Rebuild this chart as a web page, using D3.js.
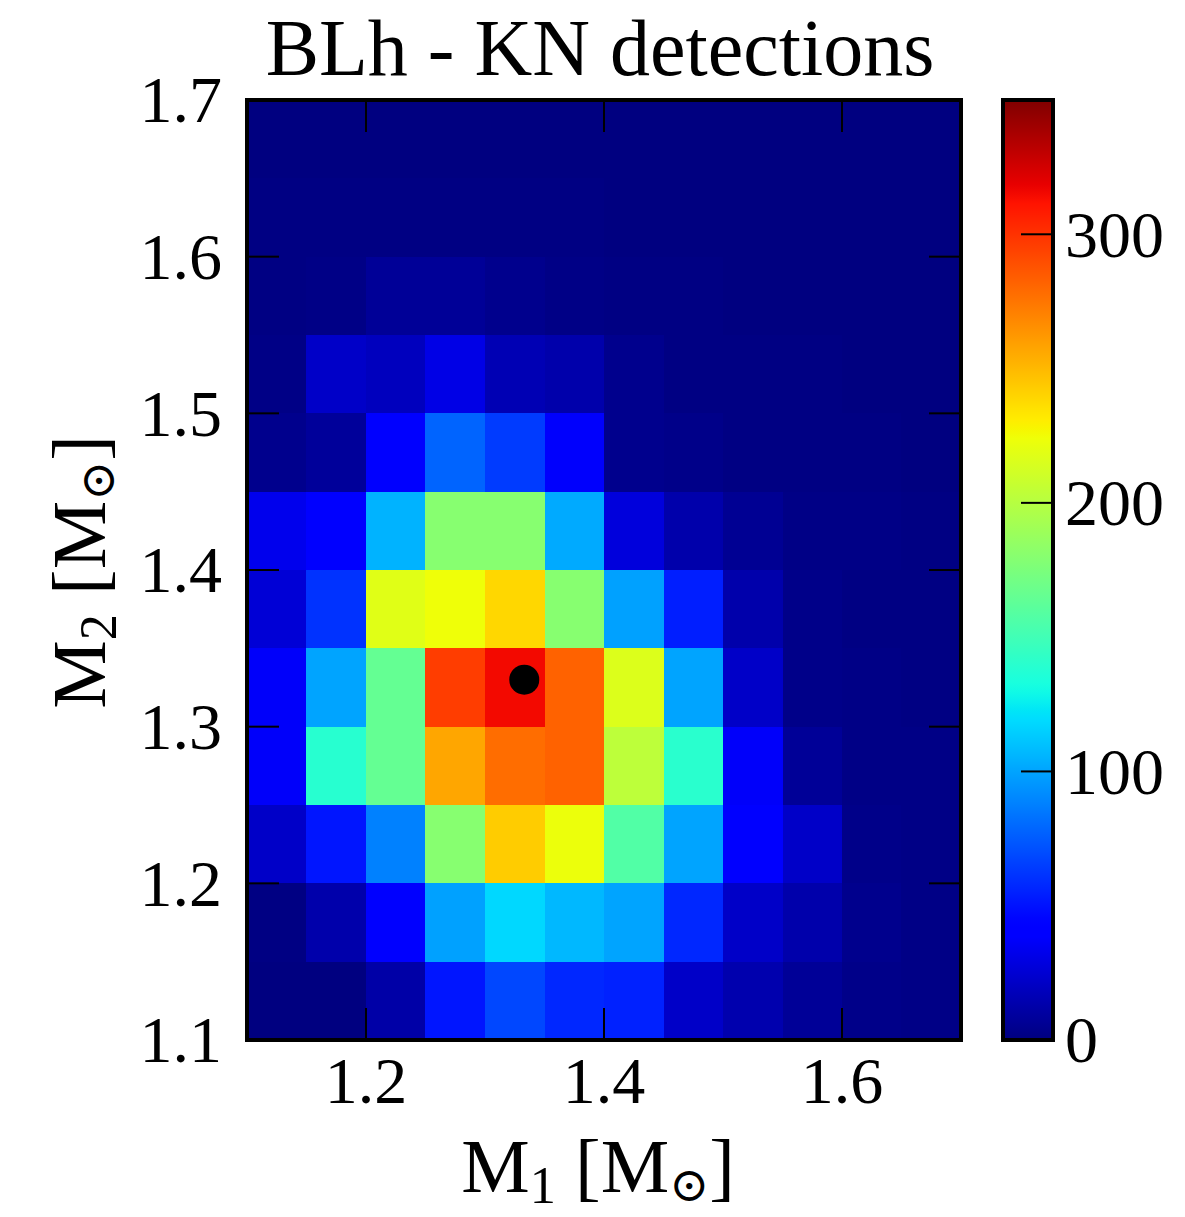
<!DOCTYPE html>
<html>
<head>
<meta charset="utf-8">
<script src="https://cdn.jsdelivr.net/npm/d3@7"></script>
<style>
  html, body { margin: 0; padding: 0; background: #fff; }
  svg { display: block; }
  text { font-family: "Liberation Serif", "DejaVu Serif", serif; fill: #000; }
</style>
</head>
<body>
<svg id="chart" width="1185" height="1217"></svg>
<script>
// ---------------- DATA ----------------
const title = "BLh - KN detections";
// lower edges of M1 bins (columns, left to right)
const m1Bins = [1.10, 1.15, 1.20, 1.25, 1.30, 1.35, 1.40, 1.45, 1.50, 1.55, 1.60, 1.65];
// lower edges of M2 bins (rows, top to bottom)
const m2Bins = [1.65, 1.60, 1.55, 1.50, 1.45, 1.40, 1.35, 1.30, 1.25, 1.20, 1.15, 1.10];
const binWidth = 0.05;
// KN detection counts; one row per M2 bin (same order as m2Bins)
const counts = [
  [  0,   0,   0,   0,   0,   0,   0,   0,   0,   0,   0,   0],
  [  1,   1,   1,   1,   1,   1,   0,   0,   0,   0,   0,   0],
  [  1,   2,   7,   7,   4,   2,   1,   1,   0,   0,   0,   0],
  [  2,  22,  19,  31,  16,  13,   4,   1,   1,   1,   0,   0],
  [  4,   8,  40,  78,  64,  38,   4,   3,   1,   1,   1,   0],
  [ 33,  40, 105, 180, 180, 102,  28,  13,   6,   2,   2,   1],
  [ 26,  61, 218, 224, 239, 180,  99,  54,  13,   3,   1,   1],
  [ 37, 100, 165, 296, 315, 282, 216, 100,  22,   3,   2,   1],
  [ 37, 139, 165, 257, 278, 282, 203, 140,  37,   7,   2,   2],
  [ 22,  51,  88, 180, 243, 223, 157, 100,  39,  22,   3,   2],
  [  1,  13,  39,  99, 118, 107, 100,  57,  22,  13,   4,   2],
  [  0,   0,  12,  51,  68,  57,  55,  22,  14,   7,   3,   2]
];
const xTicks = [1.2, 1.4, 1.6];
const yTicks = [1.1, 1.2, 1.3, 1.4, 1.5, 1.6, 1.7];
const cbTicks = [0, 100, 200, 300];
const colorMin = 0, colorMax = 350;
// reference system (M1, M2)
const marker = [{ m1: 1.333, m2: 1.33 }];

// ---------------- JET COLORMAP ----------------
const jetSeg = {
  r: [[0, 0], [0.35, 0], [0.66, 1], [0.89, 1], [1, 0.5]],
  g: [[0, 0], [0.125, 0], [0.375, 1], [0.64, 1], [0.91, 0], [1, 0]],
  b: [[0, 0.5], [0.11, 1], [0.34, 1], [0.65, 0], [1, 0]]
};
function seg(pts, t) {
  for (let i = 1; i < pts.length; i++) {
    if (t <= pts[i][0]) {
      const [x0, y0] = pts[i - 1], [x1, y1] = pts[i];
      return y0 + (y1 - y0) * (t - x0) / (x1 - x0);
    }
  }
  return pts[pts.length - 1][1];
}
function jet(t) {
  t = Math.max(0, Math.min(1, t));
  const c = k => Math.round(255 * seg(jetSeg[k], t));
  return `rgb(${c("r")},${c("g")},${c("b")})`;
}

// ---------------- LAYOUT ----------------
const svg = d3.select("#chart");
const L = 247, R = 961, T = 100, B = 1040;
const x = d3.scaleLinear().domain([1.1, 1.7]).range([L, R]);
const y = d3.scaleLinear().domain([1.1, 1.7]).range([B, T]);
const color = d3.scaleLinear().domain([colorMin, colorMax]).range([0, 1]);

const tickFont = 66, labelFont = 77;
const tickLen = 32;

// cells
const cells = [];
counts.forEach((row, i) => row.forEach((v, j) => cells.push({ m1: m1Bins[j], m2: m2Bins[i], v })));
svg.append("g").attr("shape-rendering", "crispEdges")
  .selectAll("rect").data(cells).join("rect")
  .attr("x", d => Math.round(x(d.m1)))
  .attr("y", d => Math.round(y(d.m2 + binWidth)))
  .attr("width", d => Math.round(x(d.m1 + binWidth)) - Math.round(x(d.m1)))
  .attr("height", d => Math.round(y(d.m2)) - Math.round(y(d.m2 + binWidth)))
  .attr("fill", d => jet(color(d.v)));

// ticks (inward, on all four sides)
const tg = svg.append("g").attr("stroke", "#000").attr("stroke-width", 2);
xTicks.forEach(v => {
  tg.append("line").attr("x1", x(v)).attr("x2", x(v)).attr("y1", B).attr("y2", B - tickLen);
  tg.append("line").attr("x1", x(v)).attr("x2", x(v)).attr("y1", T).attr("y2", T + tickLen);
});
yTicks.forEach(v => {
  tg.append("line").attr("y1", y(v)).attr("y2", y(v)).attr("x1", L).attr("x2", L + tickLen);
  tg.append("line").attr("y1", y(v)).attr("y2", y(v)).attr("x1", R).attr("x2", R - tickLen);
});

// marker
svg.append("g").selectAll("circle").data(marker).join("circle")
  .attr("cx", d => x(d.m1)).attr("cy", d => y(d.m2)).attr("r", 15).attr("fill", "#000");

// frame
svg.append("rect").attr("x", L).attr("y", T).attr("width", R - L).attr("height", B - T)
  .attr("fill", "none").attr("stroke", "#000").attr("stroke-width", 4);

// tick labels
svg.append("g").selectAll("text").data(xTicks).join("text")
  .attr("x", d => x(d)).attr("y", 1103).attr("text-anchor", "middle")
  .attr("font-size", tickFont).text(d => d.toFixed(1));
svg.append("g").selectAll("text").data(yTicks).join("text")
  .attr("x", L - 25).attr("y", d => y(d)).attr("dy", "0.34em").attr("text-anchor", "end")
  .attr("font-size", tickFont).text(d => d.toFixed(1));

// title
svg.append("text").attr("x", 600).attr("y", 75).attr("text-anchor", "middle")
  .attr("font-size", 80).text(title);

// axis labels
function massLabel(sel, sub) {
  sel.append("tspan").text("M");
  sel.append("tspan").attr("font-size", labelFont * 0.68).attr("dy", 11).text(sub);
  sel.append("tspan").attr("dy", -11).text(" [M");
  sel.append("tspan").attr("font-size", labelFont * 0.62).attr("dy", 9).text("\u2299");
  sel.append("tspan").attr("dy", -9).text("]");
}
const xl = svg.append("text").attr("x", 598).attr("y", 1192).attr("text-anchor", "middle")
  .attr("font-size", labelFont);
massLabel(xl, "1");
const yl = svg.append("text").attr("transform", "translate(105,572) rotate(-90)")
  .attr("text-anchor", "middle").attr("font-size", labelFont);
massLabel(yl, "2");

// ---------------- COLORBAR ----------------
const cbL = 1003, cbR = 1053;
const cy = d3.scaleLinear().domain([colorMin, colorMax]).range([B, T]);
const grad = svg.append("defs").append("linearGradient").attr("id", "jetgrad")
  .attr("x1", 0).attr("y1", 1).attr("x2", 0).attr("y2", 0);
d3.range(0, 101).forEach(i => {
  grad.append("stop").attr("offset", i / 100).attr("stop-color", jet(i / 100));
});
svg.append("rect").attr("x", cbL).attr("y", T).attr("width", cbR - cbL).attr("height", B - T)
  .attr("fill", "url(#jetgrad)");
const cg = svg.append("g").attr("stroke", "#000").attr("stroke-width", 2);
cbTicks.forEach(v => {
  cg.append("line").attr("x1", cbR).attr("x2", cbR - tickLen).attr("y1", cy(v)).attr("y2", cy(v));
});
svg.append("rect").attr("x", cbL).attr("y", T).attr("width", cbR - cbL).attr("height", B - T)
  .attr("fill", "none").attr("stroke", "#000").attr("stroke-width", 4);
svg.append("g").selectAll("text").data(cbTicks).join("text")
  .attr("x", 1065).attr("y", d => cy(d)).attr("dy", "0.34em")
  .attr("font-size", tickFont).text(d => d);
</script>
</body>
</html>
